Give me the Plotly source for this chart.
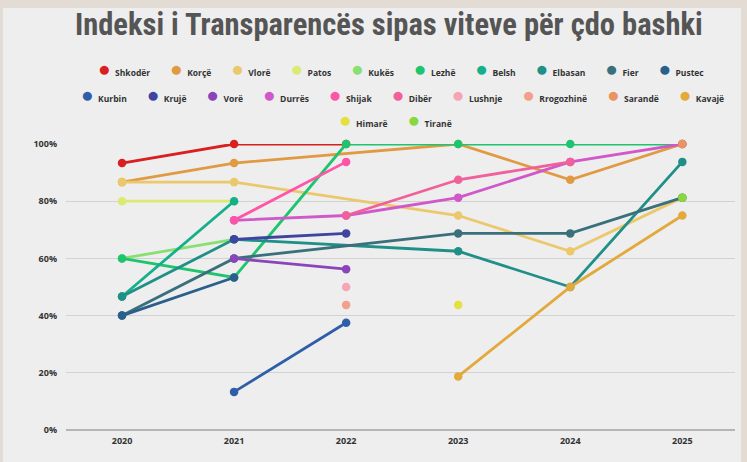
import plotly.graph_objects as go

years = [2020, 2021, 2022, 2023, 2024, 2025]
year_labels = ["2020", "2021", "2022", "2023", "2024", "2025"]
y_ticks = [0, 20, 40, 60, 80, 100]
y_tick_labels = ["0%", "20%", "40%", "60%", "80%", "100%"]

names = ["Shkodër", "Korçë", "Vlorë", "Patos", "Kukës", "Lezhë", "Belsh", "Elbasan",
         "Fier", "Pustec", "Kurbin", "Krujë", "Vorë", "Durrës", "Shijak", "Dibër",
         "Lushnje", "Rrogozhinë", "Sarandë", "Kavajë", "Himarë", "Tiranë"]

shkoder = [93.33, 100, 100, None, None, None]
korce = [86.67, 93.33, None, 100, 87.5, 100]
vlore = [86.67, 86.67, None, 75, 62.5, 81.25]
patos = [80, 80, None, None, None, None]
kukes = [60, 66.67, None, None, None, None]
lezhe = [60, 53.33, 100, 100, 100, 100]
belsh = [46.67, 80, None, None, None, None]
elbasan = [46.67, 66.67, None, 62.5, 50, 93.75]
fier = [40, 60, None, 68.75, 68.75, 81.25]
pustec = [40, 53.33, None, None, None, None]
kurbin = [None, 13.33, 37.5, None, None, None]
kruje = [None, 66.67, 68.75, None, None, None]
vore = [None, 60, 56.25, None, None, None]
durres = [None, 73.33, 75, 81.25, 93.75, 100]
shijak = [None, 73.33, 93.75, None, None, None]
diber = [None, None, 75, 87.5, 93.75, None]
lushnje = [None, None, 50, None, None, None]
rrogozhine = [None, None, 43.75, None, None, None]
sarande = [None, None, None, None, None, 100]
kavaje = [None, None, None, 18.75, 50, 75]
himare = [None, None, None, 43.75, None, None]
tirane = [None, None, None, None, None, 81.25]

series = [shkoder, korce, vlore, patos, kukes, lezhe, belsh, elbasan, fier, pustec,
          kurbin, kruje, vore, durres, shijak, diber, lushnje, rrogozhine, sarande,
          kavaje, himare, tirane]

colors = ["#d91f1f", "#e09a42", "#ebc86c", "#dcea72", "#88e072", "#1fc46e", "#14b08c",
          "#1f8f88", "#3a707c", "#2a5f8c", "#2f5ea8", "#3f44a0", "#8a45b8", "#d058c8",
          "#ff55a8", "#f0609a", "#f5a5b5", "#f2a08a", "#eb9460", "#e3a93a", "#e4e040",
          "#8ad840"]

legend_rows = [names[0:10], names[10:20], names[20:22]]

W, H = 747, 462
ML, MR, MT, MB = 66, 12, 144, 32
PW = W - ML - MR
PH = H - MT - MB


def px_x(px):
    return (px - ML) / PW


def px_y(py):
    return (H - MB - py) / PH


fig = go.Figure()
for name, vals, col in zip(names, series, colors):
    fig.add_trace(go.Scatter(
        x=years, y=vals, name=name, mode="lines+markers",
        line=dict(color=col, width=2.8),
        marker=dict(color=col, size=8.5),
        connectgaps=True, cliponaxis=False, showlegend=False,
    ))

# legend rows drawn as text with coloured dots
color_of = dict(zip(names, colors))
row_y = [68, 94, 119]
row_x = [401, 402, 395]
gap = "&nbsp;" * 9
for row, ry, rx in zip(legend_rows, row_y, row_x):
    parts = [f"<span style='color:{color_of[n]};font-size:21px'>●</span>&nbsp;&nbsp;{n}" for n in row]
    fig.add_annotation(
        text=gap.join(parts), xref="paper", yref="paper",
        x=px_x(rx), y=px_y(ry), xanchor="center", yanchor="middle",
        showarrow=False,
        font=dict(family="Open Sans", size=8.5, color="#333333", weight=700),
    )

fig.add_annotation(
    text="Indeksi i Transparencës sipas viteve për çdo bashki",
    xref="paper", yref="paper", x=px_x(389), y=px_y(24),
    xanchor="center", yanchor="middle", showarrow=False,
    font=dict(family="Liberation Sans Narrow, Roboto Condensed, Roboto", size=30.5,
              color="#555555", weight=700),
)

# background panel and beige frame
fig.add_shape(type="rect", xref="paper", yref="paper", layer="below",
              x0=px_x(3), x1=px_x(741), y0=px_y(462), y1=px_y(8),
              fillcolor="#eeeeee", line=dict(width=0))

fig.update_layout(
    width=W, height=H,
    margin=dict(l=ML, r=MR, t=MT, b=MB, pad=0),
    paper_bgcolor="#e3dcd4", plot_bgcolor="rgba(0,0,0,0)",
    font=dict(family="Open Sans", color="#333333"),
    showlegend=False,
)
fig.update_xaxes(
    range=[2019.5, 2025.47], tickvals=years, ticktext=year_labels,
    showgrid=False, zeroline=False, showline=False, ticks="",
    tickfont=dict(family="Open Sans", size=9, color="#333333", weight=700),
    ticklabelstandoff=4,
)
fig.update_yaxes(
    range=[0, 100], tickvals=y_ticks, ticktext=y_tick_labels,
    showgrid=True, gridcolor="#d2d2d2", gridwidth=1,
    zeroline=True, zerolinecolor="#b5b5b5", zerolinewidth=1.5,
    showline=False, ticks="",
    tickfont=dict(family="Open Sans", size=9, color="#333333", weight=700),
    ticklabelstandoff=8,
)

fig.write_html("out.html", config={"displayModeBar": False},
               post_script="document.body.style.margin='0';")
